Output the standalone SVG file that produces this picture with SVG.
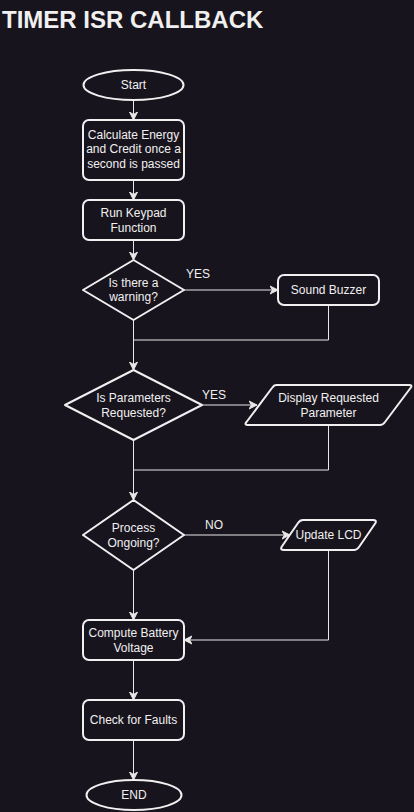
<svg xmlns="http://www.w3.org/2000/svg" width="414" height="812" viewBox="0 0 414 812">
  <defs>
    <style>
      .shape { fill: #18141d; stroke: #f0f0f0; stroke-width: 2; stroke-linejoin: round; }
      .conn { fill: none; stroke: #e8e8e8; stroke-width: 1; }
      text { font-family: "Liberation Sans", Arial, sans-serif; font-size: 12px; fill: #f0f0f0; text-anchor: middle; }
      .title { font-size: 24px; font-weight: bold; text-anchor: start; }
    </style>
    <marker id="arr" markerUnits="userSpaceOnUse" markerWidth="10" markerHeight="10" refX="8" refY="5" orient="auto">
      <path d="M0,1 L8,5 L0,9 L2.5,5 z" fill="#e8e8e8" stroke="#e8e8e8" stroke-width="1"/>
    </marker>
  </defs>
  <rect x="0" y="0" width="414" height="812" fill="#18141d"/>
  <text class="title" x="2" y="28">TIMER ISR CALLBACK</text>

  <g id="connectors">
    <path class="conn" d="M133.5,100 L133.5,120" marker-end="url(#arr)"/>
    <path class="conn" d="M133.5,180 L133.5,200" marker-end="url(#arr)"/>
    <path class="conn" d="M133.5,240 L133.5,260" marker-end="url(#arr)"/>
    <path class="conn" d="M184,290 L278,290" marker-end="url(#arr)"/>
    <path class="conn" d="M328.5,305 L328.5,340 L133.5,340"/>
    <path class="conn" d="M133.5,320 L133.5,370" marker-end="url(#arr)"/>
    <path class="conn" d="M202,405 L257,405" marker-end="url(#arr)"/>
    <path class="conn" d="M328.5,425 L328.5,470 L133.5,470"/>
    <path class="conn" d="M133.5,440 L133.5,500" marker-end="url(#arr)"/>
    <path class="conn" d="M184,535 L290,535" marker-end="url(#arr)"/>
    <path class="conn" d="M328.5,550 L328.5,640 L184,640" marker-end="url(#arr)"/>
    <path class="conn" d="M133.5,570 L133.5,620" marker-end="url(#arr)"/>
    <path class="conn" d="M133.5,660 L133.5,700" marker-end="url(#arr)"/>
    <path class="conn" d="M133.5,740 L133.5,780" marker-end="url(#arr)"/>
    <text x="198" y="278">YES</text>
    <text x="214" y="399">YES</text>
    <text x="214" y="529">NO</text>
  </g>

  <g id="start">
    <ellipse class="shape" cx="133.5" cy="85" rx="50" ry="15"/>
    <text x="133.5" y="89">Start</text>
  </g>
  <g id="calc">
    <rect class="shape" x="83" y="120" width="101" height="60" rx="6"/>
    <text x="133.5" y="139">Calculate Energy</text>
    <text x="133.5" y="153">and Credit once a</text>
    <text x="133.5" y="168">second is passed</text>
  </g>
  <g id="keypad">
    <rect class="shape" x="83" y="200" width="101" height="40" rx="6"/>
    <text x="133.5" y="217">Run Keypad</text>
    <text x="133.5" y="232">Function</text>
  </g>
  <g id="warning">
    <path class="shape" d="M133.5,260 L184,290 L133.5,320 L83,290 Z"/>
    <text x="133.5" y="287">Is there a</text>
    <text x="133.5" y="301">warning?</text>
  </g>
  <g id="buzzer">
    <rect class="shape" x="278" y="275" width="101" height="30" rx="6"/>
    <text x="328.5" y="294">Sound Buzzer</text>
  </g>
  <g id="params">
    <path class="shape" d="M133.5,370 L202,405 L133.5,440 L65,405 Z"/>
    <text x="133.5" y="402">Is Parameters</text>
    <text x="133.5" y="417">Requested?</text>
  </g>
  <g id="display">
    <path class="shape" d="M276,385 L409,385 Q413,385 410.5,388 L385,422 Q383,425 380,425 L248,425 Q244,425 246.5,422 L272,388 Q274,385 276,385 Z"/>
    <text x="328.5" y="402">Display Requested</text>
    <text x="328.5" y="417">Parameter</text>
  </g>
  <g id="process">
    <path class="shape" d="M133.5,500 L184,535 L133.5,570 L83,535 Z"/>
    <text x="133.5" y="532">Process</text>
    <text x="133.5" y="547">Ongoing?</text>
  </g>
  <g id="lcd">
    <path class="shape" d="M303,520 L373,520 Q377,520 375.5,523 L359,547 Q357,550 354,550 L284,550 Q280,550 281.5,547 L298,523 Q300,520 303,520 Z"/>
    <text x="328.5" y="539">Update LCD</text>
  </g>
  <g id="battery">
    <rect class="shape" x="83" y="620" width="101" height="40" rx="6"/>
    <text x="133.5" y="637">Compute Battery</text>
    <text x="133.5" y="652">Voltage</text>
  </g>
  <g id="faults">
    <rect class="shape" x="83" y="700" width="101" height="40" rx="6"/>
    <text x="133.5" y="724">Check for Faults</text>
  </g>
  <g id="end">
    <ellipse class="shape" cx="134" cy="795" rx="47.5" ry="15"/>
    <text x="134" y="799">END</text>
  </g>
</svg>
